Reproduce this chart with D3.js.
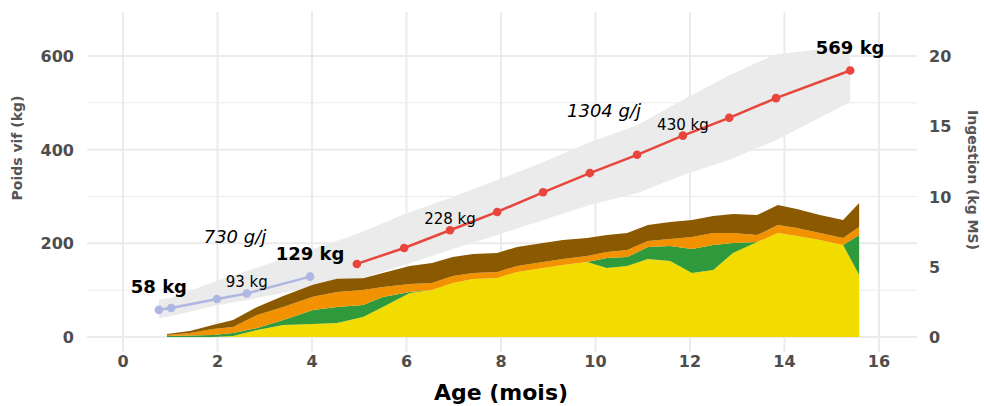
<!DOCTYPE html>
<html>
<head>
<meta charset="utf-8">
<script src="https://cdn.jsdelivr.net/npm/d3@7"></script>
<style>
  body { margin: 0; background: #fff; }
  text { font-family: "DejaVu Sans", sans-serif; }
</style>
</head>
<body>
<svg id="chart" width="984" height="406"></svg>
<script>
// poids vif, avant et apres sevrage
const preMonths = [0.76, 1.02, 1.99, 2.62, 3.96];
const preWeights = [58, 62, 81, 93, 129];
const postMonths = [4.95, 5.95, 6.92, 7.92, 8.89, 9.88, 10.88, 11.85, 12.83, 13.82, 15.39];
const postWeights = [156, 190, 228, 267, 309, 350, 389, 430, 468, 510, 569];

// enveloppe grise autour des courbes
const bandMonths = [0.76, 1.02, 1.99, 2.62, 3.96, 4.95, 5.95, 6.92, 7.92, 8.89, 9.88, 10.88, 11.85, 12.83, 13.82, 15.39];
const bandLow = [40, 45, 68, 79, 105, 122, 154, 186, 218, 250, 282, 307, 346, 378, 420, 502];
const bandHigh = [80, 84, 120, 141, 186, 220, 262, 297, 335, 373, 416, 452, 506, 559, 604, 621];

// ingestion (kg MS)
const intakeMonths = [0.93, 1.42, 1.90, 2.33, 2.84, 3.39, 4.02, 4.53, 5.08, 5.50, 6.07, 6.54, 6.98, 7.41, 7.92, 8.34,
  8.89, 9.31, 9.82, 10.24, 10.67, 11.11, 11.58, 12.04, 12.49, 12.91, 13.42, 13.86, 14.26, 14.75, 15.24, 15.58];
const yellowIntake = [0, 0, 0, 0.07, 0.5, 0.85, 0.93, 1.0, 1.42, 2.14, 3.13, 3.34, 3.84, 4.13, 4.2, 4.63,
  4.91, 5.12, 5.34, 4.91, 5.05, 5.55, 5.41, 4.56, 4.77, 5.98, 6.76, 7.4, 7.19, 6.9, 6.55, 4.41];
const greenIntake = [0.07, 0.11, 0.14, 0.21, 0.14, 0.36, 1.0, 1.14, 0.85, 0.71, 0.07, 0, 0, 0, 0, 0,
  0, 0, 0, 0.71, 0.64, 0.85, 1.07, 1.71, 1.78, 0.71, 0, 0, 0, 0, 0, 2.85];
const orangeIntake = [0.07, 0.18, 0.43, 0.43, 0.93, 0.93, 0.93, 1.07, 1.07, 0.71, 0.57, 0.5, 0.5, 0.43, 0.43, 0.43,
  0.43, 0.43, 0.43, 0.43, 0.5, 0.43, 0.5, 0.85, 0.85, 0.71, 0.5, 0.57, 0.57, 0.5, 0.5, 0.57];
const brownIntake = [0.07, 0.14, 0.28, 0.5, 0.57, 0.78, 0.85, 0.93, 0.85, 1.0, 1.28, 1.42, 1.35, 1.35, 1.35, 1.35,
  1.35, 1.35, 1.28, 1.21, 1.21, 1.14, 1.21, 1.21, 1.21, 1.35, 1.42, 1.42, 1.35, 1.28, 1.28, 1.71];

const xTicks = [0, 2, 4, 6, 8, 10, 12, 14, 16];
const weightTicks = [0, 200, 400, 600];
const weightMinor = [100, 300, 500];
const intakeTicks = [0, 5, 10, 15, 20];

const svg = d3.select('#chart');

const panel = { left: 87, right: 917, top: 12, bottom: 352 };

const x = d3.scaleLinear().domain([0, 16]).range([123, 879]);
const yW = d3.scaleLinear().domain([0, 600]).range([337, 56]);
const yI = d3.scaleLinear().domain([0, 20]).range([337, 56]);

// grille
const grid = svg.append('g');
grid.selectAll('.minor').data(weightMinor).join('line')
  .attr('x1', panel.left).attr('x2', panel.right)
  .attr('y1', d => yW(d)).attr('y2', d => yW(d))
  .attr('stroke', '#ebebeb').attr('stroke-width', 1);
grid.selectAll('.hmajor').data(weightTicks).join('line')
  .attr('x1', panel.left).attr('x2', panel.right)
  .attr('y1', d => yW(d)).attr('y2', d => yW(d))
  .attr('stroke', '#ebebeb').attr('stroke-width', 2);
grid.selectAll('.vmajor').data(xTicks).join('line')
  .attr('x1', d => x(d)).attr('x2', d => x(d))
  .attr('y1', panel.top).attr('y2', panel.bottom)
  .attr('stroke', '#ebebeb').attr('stroke-width', 2);

// enveloppe
const band = bandMonths.map((m, i) => ({ m, lo: bandLow[i], hi: bandHigh[i] }));
svg.append('path')
  .attr('d', d3.area().x(d => x(d.m)).y0(d => yW(d.lo)).y1(d => yW(d.hi))(band))
  .attr('fill', '#ebebeb');

// ingestion empilee
const keys = ['yellow', 'green', 'orange', 'brown'];
const colors = { yellow: '#f2dc00', green: '#2f9a3b', orange: '#f39200', brown: '#8b5a00' };
const intake = intakeMonths.map((m, i) => ({
  m, yellow: yellowIntake[i], green: greenIntake[i], orange: orangeIntake[i], brown: brownIntake[i]
}));
const stacked = d3.stack().keys(keys)(intake);
const area = d3.area()
  .x(d => x(d.data.m))
  .y0(d => yI(d[0]))
  .y1(d => yI(d[1]));
svg.append('g').selectAll('path').data(stacked).join('path')
  .attr('d', area)
  .attr('fill', d => colors[d.key]);

// courbes de poids
function drawSeries(months, weights, color) {
  const pts = months.map((m, i) => [m, weights[i]]);
  svg.append('path')
    .attr('d', d3.line().x(d => x(d[0])).y(d => yW(d[1]))(pts))
    .attr('fill', 'none').attr('stroke', color).attr('stroke-width', 2.5);
  svg.append('g').selectAll('circle').data(pts).join('circle')
    .attr('cx', d => x(d[0])).attr('cy', d => yW(d[1]))
    .attr('r', 4.3).attr('fill', color);
}
drawSeries(preMonths, preWeights, '#aeb6e2');
drawSeries(postMonths, postWeights, '#e8453c');

// etiquettes de poids
const labels = [
  { m: preMonths[0], w: preWeights[0], bold: true },
  { m: preMonths[3], w: preWeights[3], bold: false },
  { m: preMonths[4], w: preWeights[4], bold: true },
  { m: postMonths[2], w: postWeights[2], bold: false },
  { m: postMonths[7], w: postWeights[7], bold: false },
  { m: postMonths[10], w: postWeights[10], bold: true }
];
svg.append('g').selectAll('text').data(labels).join('text')
  .attr('x', d => x(d.m))
  .attr('y', d => yW(d.w) - (d.bold ? 17 : 6))
  .attr('text-anchor', 'middle')
  .attr('font-size', d => d.bold ? 18 : 15)
  .attr('font-weight', d => d.bold ? 'bold' : 'normal')
  .attr('fill', '#000')
  .text(d => d.w + ' kg');

// GMQ
svg.append('text').attr('x', x(2.37)).attr('y', yW(200))
  .attr('text-anchor', 'middle').attr('font-size', 18).attr('font-style', 'italic')
  .text('730 g/j');
svg.append('text').attr('x', x(10.18)).attr('y', yW(470))
  .attr('text-anchor', 'middle').attr('font-size', 18).attr('font-style', 'italic')
  .text('1304 g/j');

// axes
const tickColor = '#4d4d4d';
svg.append('g').selectAll('text').data(xTicks).join('text')
  .attr('x', d => x(d)).attr('y', 367)
  .attr('text-anchor', 'middle').attr('font-size', 16).attr('font-weight', 'bold')
  .attr('fill', tickColor).text(d => d);
svg.append('g').selectAll('text').data(weightTicks).join('text')
  .attr('x', 74).attr('y', d => yW(d) + 6)
  .attr('text-anchor', 'end').attr('font-size', 16).attr('font-weight', 'bold')
  .attr('fill', tickColor).text(d => d);
svg.append('g').selectAll('text').data(intakeTicks).join('text')
  .attr('x', 929).attr('y', d => yI(d) + 6)
  .attr('text-anchor', 'start').attr('font-size', 16).attr('font-weight', 'bold')
  .attr('fill', tickColor).text(d => d);

svg.append('text').attr('x', 501).attr('y', 400)
  .attr('text-anchor', 'middle').attr('font-size', 22).attr('font-weight', 'bold')
  .attr('fill', '#000').text('Age (mois)');
svg.append('text')
  .attr('transform', 'translate(22,148) rotate(-90)')
  .attr('text-anchor', 'middle').attr('font-size', 14).attr('font-weight', 'bold')
  .attr('fill', '#555').text('Poids vif (kg)');
svg.append('text')
  .attr('transform', 'translate(968,180) rotate(90)')
  .attr('text-anchor', 'middle').attr('font-size', 14).attr('font-weight', 'bold')
  .attr('fill', '#555').text('Ingestion (kg MS)');
</script>
</body>
</html>
